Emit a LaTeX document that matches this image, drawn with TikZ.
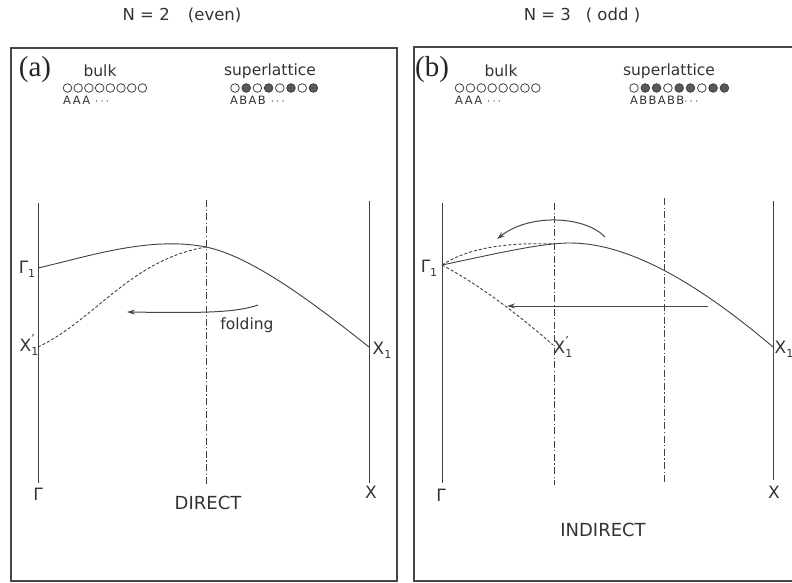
\documentclass[tikz,border=0pt]{standalone}
\usepackage{fontspec}
\setmainfont{DejaVu Sans}
\newfontfamily\serifl{Liberation Serif}
\newfontfamily\widesmall[LetterSpace=12]{DejaVu Sans}
\usetikzlibrary{arrows.meta}
\newcommand{\subone}{\raisebox{-0.45ex}{\fontsize{11pt}{11pt}\selectfont 1}}
\newcommand{\subonep}{\makebox[0pt][l]{\raisebox{1.0ex}{\fontsize{11pt}{11pt}\selectfont\textquoteright}}\raisebox{-0.45ex}{\fontsize{11pt}{11pt}\selectfont 1}}
\begin{document}
\begin{tikzpicture}[x=1pt,y=-1pt,
  boxline/.style={draw=black!72, line width=1.4pt},
  kline/.style={draw=black!75, line width=1pt},
  dashdot/.style={draw=black!75, line width=1pt, dash pattern=on 7pt off 2.5pt on 1.2pt off 2.5pt},
  band/.style={draw=black!75, line width=0.9pt},
  fold/.style={draw=black!75, line width=0.9pt, dash pattern=on 3pt off 2pt},
  arr/.style={draw=black!72, line width=1pt, -{Stealth[length=8pt,width=5pt]}},
  txt/.style={text=black!80, inner sep=0pt, font=\fontsize{15.5}{15.5}\selectfont},
  head/.style={text=black!80, inner sep=0pt, font=\fontsize{16.5}{16.5}\selectfont},
  small/.style={text=black!80, inner sep=0pt, font=\widesmall\fontsize{11.5}{11.5}\selectfont},
  lbl/.style={text=black!80, inner sep=0pt, font=\fontsize{17}{17}\selectfont},
  big/.style={text=black!80, inner sep=0pt, font=\fontsize{18}{18}\selectfont},
  panel/.style={text=black!85, inner sep=0pt, font=\serifl\fontsize{29}{29}\selectfont},
  opencirc/.style={draw=black!75, line width=0.8pt},
  fullcirc/.style={draw=black!75, fill=black!65, line width=0.8pt}]
\useasboundingbox (0,0) rectangle (792,583);
\fill[white] (0,0) rectangle (792,583);

% headings
\node[head] (h1) at (182,15) {N = 2\hspace{1.1em}(even)};
\node[head] (h2) at (582,15) {N = 3\hspace{0.9em}( odd )};

% frames
\draw[boxline] (11,48) rectangle (397,581);
\draw[boxline] (792,47) -- (414,47) -- (414,581) -- (792,581);

% ---------- panel (a) header ----------
\node[panel] (pa) at (35,70) {(a)};
\node[txt] (bulka) at (100,71) {bulk};
\node[txt] (supa) at (270,71) {superlattice};
\foreach \i in {0,...,7} \draw[opencirc] (67.5+10.7*\i,88) circle (4.3pt);
\foreach \i/\f in {0/0,1/1,2/0,3/1,4/0,5/1,6/0,7/1} {
  \ifnum\f=1 \draw[fullcirc] (235+11.2*\i,88) circle (4.3pt);
  \else \draw[opencirc] (235+11.2*\i,88) circle (4.3pt); \fi }
\node[small, anchor=west] (aaaa) at (63,100) {AAA $\cdots$};
\node[small, anchor=west] (abab) at (230,100) {ABAB $\cdots$};

% ---------- panel (a) diagram ----------
\coordinate (ga-t) at (38,203);  \coordinate (ga-b) at (38,483);
\coordinate (ma-t) at (206,200); \coordinate (ma-b) at (206,484);
\coordinate (xa-t) at (369,201); \coordinate (xa-b) at (369,483);
\draw[kline] (ga-t) -- (ga-b);
\draw[dashdot] (ma-t) -- (ma-b);
\draw[kline] (xa-t) -- (xa-b);

\coordinate (ga1) at (38,268);
\coordinate (ma1) at (206,247);
\coordinate (xa1) at (369,347);
\coordinate (xa1p) at (38,347);
\draw[band] (ga1) .. controls (90,256) and (150,236) .. (ma1)
                  .. controls (250,256) and (310,300) .. (xa1);
\draw[fold] (xa1p) .. controls (95,320) and (130,260) .. (ma1);

\coordinate (fa-s) at (258,305);
\coordinate (fa-e) at (127,312);
\draw[arr] (fa-s) .. controls (235,313) and (200,313) .. (fa-e);
\node[txt] (folding) at (247,325) {folding};

\node[lbl] (la-g1) at (27,269) {Γ\subone};
\node[lbl] (la-x1p) at (29,345) {X\subonep};
\node[lbl] (la-x1) at (382,350) {X\subone};
\node[lbl] (la-g) at (38,494) {Γ};
\node[lbl] (la-x) at (371,492) {X};
\node[big] (direct) at (208,503) {DIRECT};

% ---------- panel (b) header ----------
\node[panel] (pb) at (432,70) {(b)};
\node[txt] (bulkb) at (501,71) {bulk};
\node[txt] (supb) at (669,71) {superlattice};
\foreach \i in {0,...,7} \draw[opencirc] (459.5+10.9*\i,88) circle (4.3pt);
\foreach \i/\f in {0/0,1/1,2/1,3/0,4/1,5/1,6/0,7/1,8/1} {
  \ifnum\f=1 \draw[fullcirc] (634+11.3*\i,88) circle (4.3pt);
  \else \draw[opencirc] (634+11.3*\i,88) circle (4.3pt); \fi }
\node[small, anchor=west] (aaab) at (455,100) {AAA $\cdots$};
\node[small, anchor=west] (abba) at (630,100) {ABBABB$\cdots$};

% ---------- panel (b) diagram ----------
\coordinate (gb-t) at (442,203);  \coordinate (gb-b) at (442,483);
\coordinate (m1-t) at (554,203);  \coordinate (m1-b) at (554,485);
\coordinate (m2-t) at (664,198);  \coordinate (m2-b) at (664,483);
\coordinate (xb-t) at (773,201);  \coordinate (xb-b) at (773,480);
\draw[kline] (gb-t) -- (gb-b);
\draw[dashdot] (m1-t) -- (m1-b);
\draw[dashdot] (m2-t) -- (m2-b);
\draw[kline] (xb-t) -- (xb-b);

\coordinate (gb1) at (442,265);
\coordinate (pk) at (570,243);
\coordinate (xb1) at (773,347);
\coordinate (m1c) at (554,244);
\coordinate (xb1p) at (553,345);
\draw[band] (gb1) .. controls (490,255) and (540,243) .. (pk)
                  .. controls (630,243) and (700,285) .. (xb1);
\draw[fold] (gb1) .. controls (465,250) and (500,242) .. (m1c);
\draw[fold] (gb1) .. controls (480,285) and (520,316) .. (xb1p);

\coordinate (ab-s) at (605,237);
\coordinate (ab-e) at (497,239);
\draw[arr] (ab-s) .. controls (585,216) and (530,213) .. (ab-e);
\coordinate (hb-s) at (708,306);
\coordinate (hb-e) at (507,306);
\draw[arr] (hb-s) -- (hb-e);

\node[lbl] (lb-g1) at (429,268) {Γ\subone};
\node[lbl] (lb-x1p) at (563,347) {X\subonep};
\node[lbl] (lb-x1) at (784,349) {X\subone};
\node[lbl] (lb-g) at (441,495) {Γ};
\node[lbl] (lb-x) at (774,492) {X};
\node[big] (indirect) at (603,530) {INDIRECT};
\end{tikzpicture}
\end{document}
